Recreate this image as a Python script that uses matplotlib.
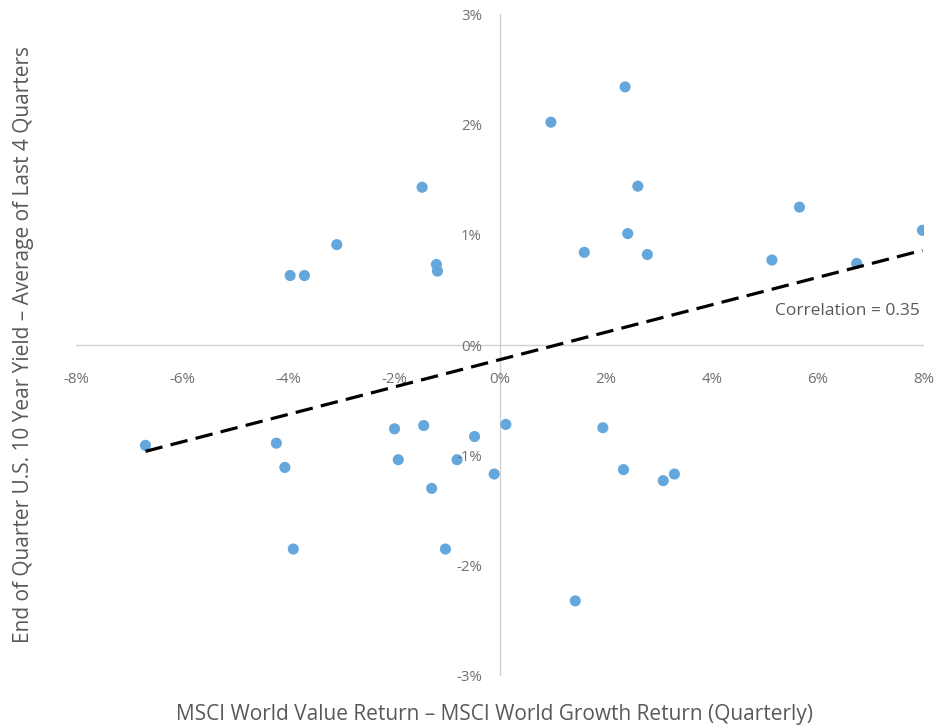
import numpy as np
import matplotlib
matplotlib.use("Agg")
import matplotlib.pyplot as plt

# Data (in %)
value_minus_growth = [
    -1.47, -3.08, -3.96, -3.69, -1.20, -1.18,
    2.36, 0.96, 2.60, 2.41, 1.59, 2.78, 5.13, 5.65, 6.73, 7.97,
    -6.69, -4.22, -4.06, -3.90, -1.99, -1.92, -1.44, -1.29, -1.03, -0.81,
    -0.48, 0.11, -0.11, 1.94, 2.33, 3.08, 3.29, 1.42,
]
yield_change = [
    1.43, 0.91, 0.63, 0.63, 0.73, 0.67,
    2.34, 2.02, 1.44, 1.01, 0.84, 0.82, 0.77, 1.25, 0.74, 1.04,
    -0.91, -0.89, -1.11, -1.85, -0.76, -1.04, -0.73, -1.30, -1.85, -1.04,
    -0.83, -0.72, -1.17, -0.75, -1.13, -1.23, -1.17, -2.32,
]
x_ticks = [-8, -6, -4, -2, 0, 2, 4, 6, 8]
y_ticks = [-3, -2, -1, 0, 1, 2, 3]
correlation_label = "Correlation = 0.35"

x = np.array(value_minus_growth)
y = np.array(yield_change)

plt.rcParams['font.family'] = ['Open Sans', 'DejaVu Sans']
gray = '#595959'
tick_gray = '#6f6f6f'

fig = plt.figure(figsize=(9.36, 7.28), dpi=100)
ax = fig.add_axes([0.0812, 0.0716, 0.906, 0.909])
ax.set_xlim(-8, 8)
ax.set_ylim(-3, 3)

for s in ax.spines.values():
    s.set_visible(False)
ax.axhline(0, color='#d0d0d0', lw=1.0, zorder=1)
ax.axvline(0, color='#d0d0d0', lw=1.0, zorder=1)

ax.scatter(x, y, s=64, color='#64A7DD', edgecolors='none', zorder=3)

# Linear trendline
slope, intercept = np.polyfit(x, y, 1)
xt = np.array([x.min(), x.max()])
ax.plot(xt, slope * xt + intercept, color='black', lw=2.3,
        linestyle=(0, (5.5, 2.6)), zorder=4)

ax.set_xticks(x_ticks)
ax.set_yticks(y_ticks)
ax.tick_params(length=0)
ax.set_xticklabels([])
ax.set_yticklabels([])
for t in x_ticks:
    ax.annotate(f"{t}%", xy=(t, 0), xytext=(0, -25), textcoords='offset points',
                ha='center', va='center', fontsize=10.8, color=tick_gray)
for t in y_ticks:
    ax.annotate(f"{t}%", xy=(0, t), xytext=(-13, -1.5), textcoords='offset points',
                ha='right', va='center', fontsize=10.8, color=tick_gray)

ax.text(7.93, 0.31, correlation_label, ha='right', va='center',
        fontsize=12.5, color=gray)

fig.text(0.528, 0.019, "MSCI World Value Return \u2013 MSCI World Growth Return (Quarterly)",
         ha='center', va='center', fontsize=15, color=gray)
fig.text(0.025, 0.527, "End of Quarter U.S. 10 Year Yield \u2013 Average of Last 4 Quarters",
         ha='center', va='center', rotation=90, fontsize=15, color=gray)

fig.savefig("out.png", dpi=100)
